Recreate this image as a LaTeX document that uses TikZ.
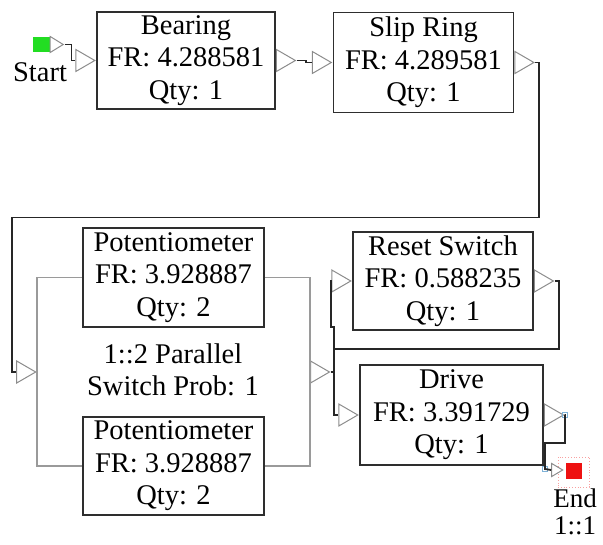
\documentclass[tikz,border=0pt]{standalone}
\usepackage{fontspec}
\setmainfont{Liberation Serif}
\usepackage{tikz}
\usetikzlibrary{calc,positioning,shapes.geometric}
\definecolor{BlockEdge}{HTML}{2E2E2E}
\definecolor{PortGray}{HTML}{8C8C8C}
\definecolor{ParGray}{HTML}{9A9A9A}
\definecolor{StartGreen}{HTML}{22DD22}
\definecolor{EndRed}{HTML}{EE1111}
\definecolor{GripBlue}{HTML}{7FB2D8}

\begin{document}
\begin{tikzpicture}[
  x=1pt,
  y=-1pt,
  font=\fontsize{28.5}{32.5}\selectfont,
  blockbox/.style={
    draw=BlockEdge,
    line width=1.8pt,
    align=center,
    inner sep=0pt,
    minimum width=180pt,
    minimum height=99pt,
    fill=white
  },
  port/.style={draw=PortGray, line width=1pt, fill=white, isosceles triangle,
    isosceles triangle stretches, inner sep=0pt, minimum width=22pt, minimum height=19pt},
  smallport/.style={port, minimum width=13pt, minimum height=11pt},
  wire/.style={line width=1.8pt, draw=black!85},
  parline/.style={line width=1.4pt, draw=ParGray},
  grip/.style={draw=GripBlue, line width=0.8pt, inner sep=0pt, minimum size=5pt}
]
\useasboundingbox (0,0) rectangle (603,545);

% blocks
\node[blockbox, minimum width=178pt, minimum height=97pt] (bearing) at (186,60.5) {Bearing\\FR: 4.288581\\Qty: 1};
\node[blockbox, minimum height=100pt] (slipring) at (423.5,62.5) {Slip Ring\\FR: 4.289581\\Qty: 1};
\node[blockbox, minimum width=181pt] (pot1) at (173.5,277.5) {Potentiometer\\FR: 3.928887\\Qty: 2};
\node[blockbox, minimum width=181pt, minimum height=98pt] (pot2) at (173.5,466) {Potentiometer\\FR: 3.928887\\Qty: 2};
\node[blockbox, minimum height=98pt] (reset) at (443,281) {Reset Switch\\FR: 0.588235\\Qty: 1};
\node[blockbox, minimum width=183pt, minimum height=100pt] (drive) at (451.5,415) {Drive\\FR: 3.391729\\Qty: 1};
\node[align=center] (parlabel) at (173,370) {1::2 Parallel\\Switch Prob: 1};

% start and end
\node[fill=StartGreen, inner sep=0pt, minimum width=17pt, minimum height=15pt] (start) at (41,44.5) {};
\node (startlabel) at (40,72) {Start};
\node[draw=EndRed!40, dotted, line width=0.8pt, inner sep=0pt, minimum width=31pt, minimum height=30pt] (endframe) at (573.5,472) {};
\node[fill=EndRed, inner sep=0pt, minimum size=16pt] (endsq) at (574,471) {};
\node[align=center, inner sep=0pt, font=\fontsize{27}{27}\selectfont] (endlabel) at (575,512) {End\\1::1};

% ports
\node[smallport, minimum width=16pt, minimum height=13pt, right=0pt of start] (startout) {};
\node[port, left=0pt of bearing] (bearingin) {};
\node[port, right=0pt of bearing] (bearingout) {};
\node[port, left=0pt of slipring] (slipin) {};
\node[port, right=0pt of slipring] (slipout) {};
\node[port, anchor=apex] (parin) at (37,372) {};
\node[port, anchor=west] (parout) at (310,372) {};
\node[port, left=0pt of reset] (resetin) {};
\node[port, right=0pt of reset] (resetout) {};
\node[port, left=0pt of drive] (drivein) {};
\node[port, right=0pt of drive] (driveout) {};
\node[smallport, anchor=apex] (endin) at (564,470) {};
\node[grip] (grip1) at (565,415) {};
\node[grip] (grip2) at (545,469) {};

% parallel branch lines
\draw[parline] (pot1.west) -| (parin.apex) |- (pot2.west);
\draw[parline] (pot1.east) -| (parout.west) |- (pot2.east);

% wires
\draw[wire] (startout.apex) -- ++(7,0) |- (bearingin.west);
\draw[wire] (bearingout.apex) -- ++(9,0) |- (slipin.west);
\draw[wire] (slipout.apex) -- ++(4,0) -- ++(0,155) -| ($(parin.west)+(-4,0)$) -- (parin.west);
\draw[wire] (parout.apex) -- ++(3,0) -- ++(0,-45) -- ++(-3,0) |- (resetin.west);
\draw[wire] (resetout.apex) -- ++(4,0) -- ++(0,68) -| ($(drivein.west)+(-4,0)$) -- (drivein.west);
\draw[wire] (driveout.apex) -- (grip1.center) -- ++(0,28) -| (grip2.center) -- (endin.west);
\end{tikzpicture}
\end{document}
